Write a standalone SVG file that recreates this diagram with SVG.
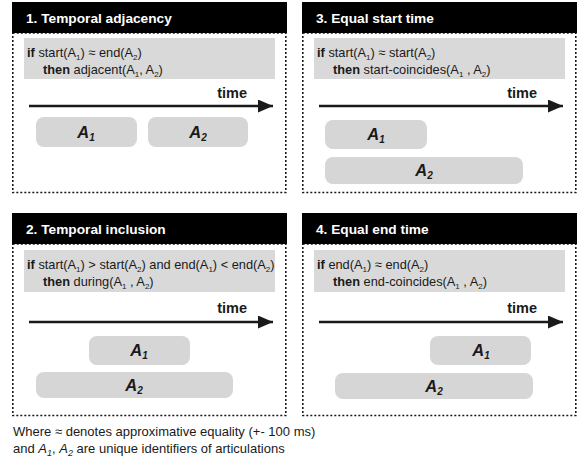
<svg xmlns="http://www.w3.org/2000/svg" width="578" height="461" viewBox="0 0 578 461">
<defs>
<style>
text{font-family:"Liberation Sans",Arial,Helvetica,sans-serif;fill:#1a1a1a}
.hdr{fill:#000}
.title{font-weight:bold;font-size:13.7px;fill:#fff}
.frame{fill:none;stroke:#1a1a1a;stroke-width:1.6;stroke-dasharray:2 2}
.cond{fill:#d9d9d9}
.ct{font-size:12.8px}
.b{font-weight:bold}
.sub{font-size:8px}
.bar{fill:#d6d6d6}
.lab{font-weight:bold;font-style:italic;font-size:16.5px;text-anchor:middle}
.ls{font-size:10px}
.time{font-weight:bold;font-size:14.5px;text-anchor:end}
.axis{stroke:#1a1a1a;stroke-width:2.4;fill:none}
.foot{font-size:13px}
.fs{font-size:9px;font-style:italic}
</style>
<marker id="ah" markerWidth="15" markerHeight="13" refX="15" refY="6.5" orient="auto" markerUnits="userSpaceOnUse">
<path d="M0,0 L15,6.5 L0,13 Z" fill="#1a1a1a"/>
</marker>
</defs>
<rect width="578" height="461" fill="#fff"/>

<g id="panel1">
<rect class="frame" x="12.8" y="33" width="273" height="159.5"/>
<rect class="hdr" x="12" y="2" width="275" height="31"/>
<text class="title" x="26" y="22.5">1. Temporal adjacency</text>
<rect class="cond" x="24" y="38" width="251" height="41"/>
<text class="ct" x="27" y="57"><tspan class="b">if</tspan> start(A<tspan class="sub" dy="3">1</tspan><tspan dy="-3">) ≈ end(A</tspan><tspan class="sub" dy="3">2</tspan><tspan dy="-3">)</tspan></text>
<text class="ct" x="43" y="74"><tspan class="b">then</tspan> adjacent(A<tspan class="sub" dy="3">1</tspan><tspan dy="-3">, A</tspan><tspan class="sub" dy="3">2</tspan><tspan dy="-3">)</tspan></text>
<text class="time" x="247" y="98">time</text>
<g id="p1a1"><rect class="bar" x="36" y="117" width="101" height="30" rx="8"/><text class="lab" x="86" y="138">A<tspan class="ls" dy="3">1</tspan></text></g>
<g id="p1a2"><rect class="bar" x="148" y="117" width="100" height="30" rx="8"/><text class="lab" x="198" y="138">A<tspan class="ls" dy="3">2</tspan></text></g>
</g>

<g id="panel3">
<rect class="frame" x="302.8" y="33" width="273" height="159.5"/>
<rect class="hdr" x="302" y="2" width="275" height="31"/>
<text class="title" x="316" y="22.5">3. Equal start time</text>
<rect class="cond" x="314" y="38" width="251" height="41"/>
<text class="ct" x="317" y="57"><tspan class="b">if</tspan> start(A<tspan class="sub" dy="3">1</tspan><tspan dy="-3">) ≈ start(A</tspan><tspan class="sub" dy="3">2</tspan><tspan dy="-3">)</tspan></text>
<text class="ct" x="333" y="74"><tspan class="b">then</tspan> start-coincides(A<tspan class="sub" dy="3">1</tspan><tspan dy="-3"> , A</tspan><tspan class="sub" dy="3">2</tspan><tspan dy="-3">)</tspan></text>
<text class="time" x="537" y="98">time</text>
<g id="p3a1"><rect class="bar" x="325" y="120" width="102" height="29" rx="8"/><text class="lab" x="376" y="140">A<tspan class="ls" dy="3">1</tspan></text></g>
<g id="p3a2"><rect class="bar" x="325" y="157" width="198" height="27" rx="8"/><text class="lab" x="424" y="176">A<tspan class="ls" dy="3">2</tspan></text></g>
</g>

<g id="panel2">
<rect class="frame" x="12.8" y="244" width="273" height="171.5"/>
<rect class="hdr" x="12" y="213" width="275" height="31"/>
<text class="title" x="26" y="233.5">2. Temporal inclusion</text>
<rect class="cond" x="24" y="250" width="251" height="42"/>
<text class="ct" x="27" y="269"><tspan class="b">if</tspan> start(A<tspan class="sub" dy="3">1</tspan><tspan dy="-3">) &gt; start(A</tspan><tspan class="sub" dy="3">2</tspan><tspan dy="-3">) and end(A</tspan><tspan class="sub" dy="3">1</tspan><tspan dy="-3">) &lt; end(A</tspan><tspan class="sub" dy="3">2</tspan><tspan dy="-3">)</tspan></text>
<text class="ct" x="43" y="286"><tspan class="b">then</tspan> during(A<tspan class="sub" dy="3">1</tspan><tspan dy="-3"> , A</tspan><tspan class="sub" dy="3">2</tspan><tspan dy="-3">)</tspan></text>
<text class="time" x="247" y="313">time</text>
<g id="p2a1"><rect class="bar" x="89" y="336" width="101" height="29" rx="8"/><text class="lab" x="139" y="356">A<tspan class="ls" dy="3">1</tspan></text></g>
<g id="p2a2"><rect class="bar" x="36" y="372" width="197" height="26" rx="8"/><text class="lab" x="134" y="391">A<tspan class="ls" dy="3">2</tspan></text></g>
</g>

<g id="panel4">
<rect class="frame" x="302.8" y="244" width="273" height="171.5"/>
<rect class="hdr" x="302" y="213" width="275" height="31"/>
<text class="title" x="316" y="233.5">4. Equal end time</text>
<rect class="cond" x="314" y="250" width="251" height="42"/>
<text class="ct" x="317" y="269"><tspan class="b">if</tspan> end(A<tspan class="sub" dy="3">1</tspan><tspan dy="-3">) ≈ end(A</tspan><tspan class="sub" dy="3">2</tspan><tspan dy="-3">)</tspan></text>
<text class="ct" x="333" y="286"><tspan class="b">then</tspan> end-coincides(A<tspan class="sub" dy="3">1</tspan><tspan dy="-3"> , A</tspan><tspan class="sub" dy="3">2</tspan><tspan dy="-3">)</tspan></text>
<text class="time" x="537" y="313">time</text>
<g id="p4a1"><rect class="bar" x="430" y="336" width="101" height="29" rx="8"/><text class="lab" x="481" y="356">A<tspan class="ls" dy="3">1</tspan></text></g>
<g id="p4a2"><rect class="bar" x="335" y="373" width="198" height="26" rx="8"/><text class="lab" x="434" y="392">A<tspan class="ls" dy="3">2</tspan></text></g>
</g>

<g id="connectors">
<line class="axis" x1="29" y1="106" x2="273" y2="106" marker-end="url(#ah)"/>
<line class="axis" x1="319" y1="106" x2="563" y2="106" marker-end="url(#ah)"/>
<line class="axis" x1="29" y1="322" x2="273" y2="322" marker-end="url(#ah)"/>
<line class="axis" x1="319" y1="322" x2="563" y2="322" marker-end="url(#ah)"/>
</g>

<g id="footer">
<text class="foot" x="13" y="436">Where ≈ denotes approximative equality (+- 100 ms)</text>
<text class="foot" x="13" y="453">and <tspan font-style="italic">A</tspan><tspan class="fs" dy="2.5">1</tspan><tspan dy="-2.5">, </tspan><tspan font-style="italic">A</tspan><tspan class="fs" dy="2.5">2</tspan><tspan dy="-2.5"> are unique identifiers of articulations</tspan></text>
</g>
</svg>
